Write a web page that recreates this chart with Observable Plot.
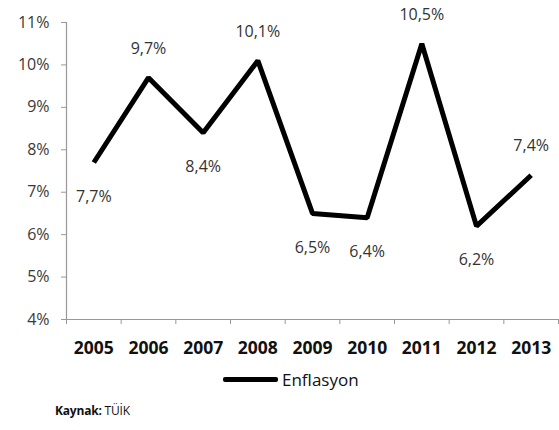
<!DOCTYPE html>
<html>
<head>
<meta charset="utf-8">
<script src="https://cdn.jsdelivr.net/npm/d3@7"></script>
<script src="https://cdn.jsdelivr.net/npm/@observablehq/plot@0.6"></script>
<style>
  body { margin: 0; background: #fff; }
  #wrap { position: relative; width: 559px; height: 430px; font-family: "Open Sans", sans-serif; }
  #legend { position: absolute; left: 223px; top: 366px; height: 26px; display: flex; align-items: center; font-size: 17px; color: #111; }
  #legend .swatch { display: inline-block; width: 55px; height: 5px; background: #000; margin-right: 4px; border-radius: 2px; }
  #caption { position: absolute; left: 55px; top: 402px; font-size: 12px; color: #111; letter-spacing: -0.2px; }
</style>
</head>
<body>
<div id="wrap">
  <div id="chart"></div>
  <div id="legend"><span class="swatch"></span><span>Enflasyon</span></div>
  <div id="caption"><b>Kaynak:</b> TÜİK</div>
</div>
<script>
// Yıllık enflasyon (%)
const years = [2005, 2006, 2007, 2008, 2009, 2010, 2011, 2012, 2013];
const enflasyon = [7.7, 9.7, 8.4, 10.1, 6.5, 6.4, 10.5, 6.2, 7.4];
const yTicks = [4, 5, 6, 7, 8, 9, 10, 11];

const data = years.map((year, i) => ({
  year,
  value: enflasyon[i],
  // label goes above when the value rose from the previous year
  above: i > 0 && enflasyon[i] > enflasyon[i - 1]
}));

// category boundaries for the x tick marks
const boundaries = years.map(y => y - 0.5).concat([years[years.length - 1] + 0.5]);
const fmt = v => v.toFixed(1).replace(".", ",") + "%";
const axisColor = "#9c9696";

const chart = Plot.plot({
  width: 559,
  height: 366,
  marginLeft: 66,
  marginRight: 1,
  marginTop: 22,
  marginBottom: 47,
  style: { fontFamily: "Open Sans, sans-serif", background: "#fff" },
  x: { domain: [years[0] - 0.5, years[years.length - 1] + 0.5] },
  y: { domain: [4, 11] },
  marks: [
    Plot.ruleY([4], { stroke: axisColor, strokeWidth: 1.2 }),
    Plot.ruleX([years[0] - 0.5], { stroke: axisColor, strokeWidth: 1.2 }),
    Plot.axisY({
      ticks: yTicks,
      tickFormat: d => d + "%",
      tickSize: 5,
      tickPadding: 12,
      stroke: axisColor,
      fill: "#3a3a3a",
      fontSize: 16,
      label: null
    }),
    Plot.axisX({
      ticks: boundaries,
      tickFormat: () => "",
      tickSize: 5,
      stroke: axisColor,
      label: null
    }),
    Plot.axisX({
      ticks: years,
      tickFormat: d => String(d),
      tickSize: 0,
      tickPadding: 22,
      fill: "#111",
      fontSize: 17.5,
      fontWeight: "bold",
      label: null
    }),
    Plot.line(data, {
      x: "year",
      y: "value",
      stroke: "#000",
      strokeWidth: 5,
      strokeLinejoin: "miter",
      strokeLinecap: "butt"
    }),
    Plot.text(data.filter(d => d.above), {
      x: "year",
      y: "value",
      text: d => fmt(d.value),
      dy: -29,
      fill: "#333",
      fontSize: 16
    }),
    Plot.text(data.filter(d => !d.above), {
      x: "year",
      y: "value",
      text: d => fmt(d.value),
      dy: 34,
      fill: "#333",
      fontSize: 16
    })
  ]
});

document.getElementById("chart").appendChild(chart);
</script>
</body>
</html>
